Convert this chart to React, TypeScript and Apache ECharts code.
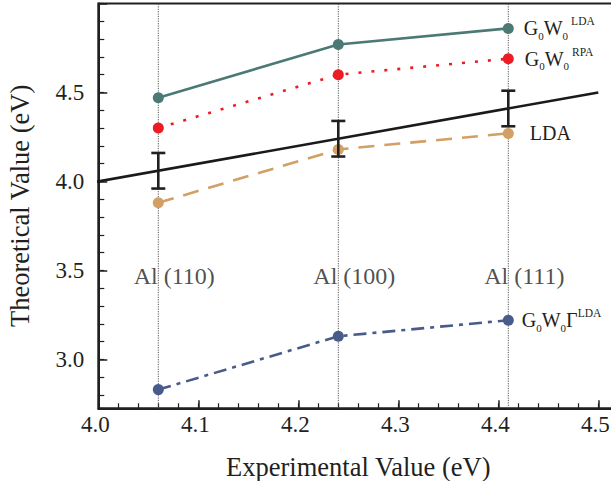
import React, { useEffect, useRef } from "react";
import * as echarts from "echarts";

// ---- data ----
const experimental = [4.06, 4.24, 4.41];
const facets = ["Al (110)", "Al (100)", "Al (111)"];
const g0w0Lda = [4.47, 4.77, 4.86];
const g0w0Rpa = [4.3, 4.6, 4.69];
const lda = [3.88, 4.18, 4.27];
const g0w0GammaLda = [2.83, 3.13, 3.22];
const errHalf = [0.1, 0.1, 0.1];
const diagonal = [3.99, 4.5];
const facetLabelY = 3.47;
const xRange = [4.0, 4.52];
const yRange = [2.725, 5.0];
const xMajorStep = 0.1;
const xMinorStep = 0.02;
const yMajorStep = 0.5;
const yMinorStep = 0.1;

const F = "Liberation Serif, serif";
const TXT = "#231f20";

const rich = {
  m: { fontFamily: F, fontSize: 20, color: TXT, lineHeight: 26, verticalAlign: "middle" },
  s: { fontFamily: F, fontSize: 11, color: TXT, lineHeight: 20, verticalAlign: "bottom" },
  p: { fontFamily: F, fontSize: 11.5, color: TXT, lineHeight: 11, verticalAlign: "top", padding: [0, 0, 0, 3] },
  q: { fontFamily: F, fontSize: 11.5, color: TXT, lineHeight: 11, verticalAlign: "top" },
};

function pts(ys: number[], labelText: string, dist: number) {
  return ys.map((y, i) => ({
    value: [experimental[i], y],
    label:
      i === ys.length - 1
        ? { show: true, position: "right", distance: dist, formatter: labelText, rich }
        : { show: false },
  }));
}

const isMultiple = (v: number, step: number) => Math.abs(v / step - Math.round(v / step)) < 1e-6;

export default function App() {
  const ref = useRef<HTMLDivElement>(null);
  useEffect(() => {
    if (!ref.current) return;
    const chart = echarts.init(ref.current, undefined, { renderer: "svg" });
    const dataSeries = (name: string, ys: number[], color: string, type: any, label: string, dist: number) => ({
      name,
      type: "line",
      data: pts(ys, label, dist),
      symbol: "circle",
      symbolSize: 11,
      itemStyle: { color },
      lineStyle: { color, width: 2.6, type },
      z: 3,
    });
    chart.setOption({
      animation: false,
      backgroundColor: "#ffffff",
      textStyle: { fontFamily: F },
      grid: {
        left: 98.3,
        right: -7.3,
        top: 3.5,
        bottom: 72.7,
        show: true,
        borderColor: TXT,
        borderWidth: 2,
        containLabel: false,
        outerBoundsMode: "none",
      },
      xAxis: [
        {
          type: "value",
          min: xRange[0],
          max: xRange[1],
          interval: xMajorStep,
          axisLine: { show: true, onZero: false, lineStyle: { color: TXT, width: 2 } },
          axisTick: { inside: true, length: 8, lineStyle: { color: TXT, width: 1.5 } },
          splitLine: { show: false },
          axisLabel: {
            fontFamily: F,
            fontSize: 23,
            color: TXT,
            margin: 5,
            padding: [0, 6, 0, 0],
            formatter: (v: number) => (isMultiple(v, xMajorStep) && v < 4.505 ? v.toFixed(1) : ""),
          },
          name: "Experimental Value (eV)",
          nameLocation: "middle",
          nameGap: 45,
          nameTextStyle: { fontFamily: F, fontSize: 26.5, color: TXT },
        },
        {
          type: "value",
          position: "bottom",
          min: xRange[0],
          max: xRange[1],
          interval: xMinorStep,
          axisLine: { show: false },
          axisTick: { show: true, inside: true, length: 5, lineStyle: { color: TXT, width: 1.2 } },
          axisLabel: { show: false },
          splitLine: { show: false },
        },
      ],
      yAxis: [
        {
          type: "value",
          min: yRange[0],
          max: yRange[1],
          minInterval: yMajorStep,
          maxInterval: yMajorStep,
          axisLine: { show: true, onZero: false, lineStyle: { color: TXT, width: 2 } },
          axisTick: { inside: true, length: 9, lineStyle: { color: TXT, width: 1.5 } },
          splitLine: { show: false },
          axisLabel: {
            fontFamily: F,
            fontSize: 23,
            color: TXT,
            margin: 14,
            formatter: (v: number) => (isMultiple(v, yMajorStep) && v < 4.95 ? v.toFixed(1) : ""),
          },
          name: "Theoretical Value (eV)",
          nameLocation: "middle",
          nameGap: 65,
          nameTextStyle: { fontFamily: F, fontSize: 26.5, color: TXT },
        },
        {
          type: "value",
          position: "left",
          min: yRange[0],
          max: yRange[1],
          minInterval: yMinorStep,
          maxInterval: yMinorStep,
          axisLine: { show: false },
          axisTick: { show: true, inside: true, length: 6, lineStyle: { color: TXT, width: 1.2 } },
          axisLabel: { show: false },
          splitLine: { show: false },
        },
      ],
      series: [
        {
          type: "custom",
          silent: true,
          data: experimental.map((x) => [x, yRange[0], yRange[1]]),
          renderItem: (params: any, api: any) => {
            const a = api.coord([api.value(0), api.value(1)]);
            const b = api.coord([api.value(0), api.value(2)]);
            return {
              type: "line",
              shape: { x1: a[0], y1: a[1], x2: b[0], y2: b[1] },
              style: { stroke: "#555", lineWidth: 1, lineDash: [1.2, 1.2] },
            };
          },
          z: 1,
        },
        dataSeries("G0W0 LDA", g0w0Lda, "#4b7a75", "solid", "{m|G}{s|0}{m|W}{s|0}{p|LDA}", 10),
        dataSeries("G0W0 RPA", g0w0Rpa, "#ed1c24", [3, 10], "{m|G}{s|0}{m|W}{s|0}{p|RPA}", 11),
        dataSeries("LDA", lda, "#d29f64", [16, 10], "{m|LDA}", 16),
        dataSeries("G0W0Γ LDA", g0w0GammaLda, "#485b8b", [13, 6, 4, 6], "{m|G}{s|0}{m|W}{s|0}{m|Γ}{q|LDA}", 8),
        {
          type: "line",
          data: diagonal.map((v) => [v, v]),
          symbol: "none",
          clip: false,
          lineStyle: { color: "#1a1a1a", width: 2.6 },
          z: 4,
        },
        {
          type: "custom",
          data: experimental.map((x, i) => [x, x - errHalf[i], x + errHalf[i]]),
          renderItem: (params: any, api: any) => {
            const lo = api.coord([api.value(0), api.value(1)]);
            const hi = api.coord([api.value(0), api.value(2)]);
            const w = 7;
            const st = { stroke: "#231f20", lineWidth: 2.6 };
            return {
              type: "group",
              children: [
                { type: "line", shape: { x1: lo[0], y1: lo[1], x2: hi[0], y2: hi[1] }, style: st },
                { type: "line", shape: { x1: lo[0] - w, y1: lo[1], x2: lo[0] + w, y2: lo[1] }, style: st },
                { type: "line", shape: { x1: hi[0] - w, y1: hi[1], x2: hi[0] + w, y2: hi[1] }, style: st },
              ],
            };
          },
          z: 5,
        },
        {
          type: "scatter",
          data: experimental.map((x, i) => ({ value: [x, facetLabelY], name: facets[i] })),
          symbolSize: 1,
          itemStyle: { color: "rgba(0,0,0,0)" },
          label: {
            show: true,
            position: "inside",
            offset: [16, 0],
            formatter: "{b}",
            fontFamily: F,
            fontSize: 24,
            color: TXT,
          },
          silent: true,
          z: 6,
        },
      ],
    });
    return () => chart.dispose();
  }, []);
  return (
    <div
      ref={ref}
      style={{ position: "fixed", left: 0, top: 0, width: 611, height: 481, background: "#fff" }}
    />
  );
}
